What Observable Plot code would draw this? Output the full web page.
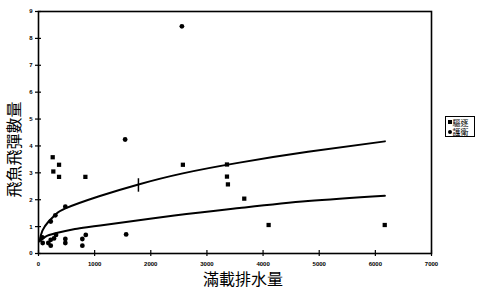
<!DOCTYPE html>
<html>
<head>
<meta charset="utf-8">
<script src="https://cdn.jsdelivr.net/npm/d3@7"></script>
<script src="https://cdn.jsdelivr.net/npm/@observablehq/plot@0.6"></script>
<style>
  body { margin: 0; background: #fff; }
  #wrap { position: relative; width: 479px; height: 297px; }
  #legend { position: absolute; left: 445px; top: 116px; width: 28px; height: 19px;
    border: 1.5px solid #000; font-family: "Noto Sans CJK TC", sans-serif; font-size: 8px;
    background: #fff; overflow: hidden; }
  #legend .row { display: flex; align-items: center; white-space: nowrap; height: 9px; line-height: 9px; margin-top: 0.5px; }
  #legend .mk { flex: none; width: 4px; height: 4px; background: #000; margin: 0 1px 0 1.5px; }
  #legend .mk.c { border-radius: 50%; }
</style>
</head>
<body>
<div id="wrap"></div>
<script>
const seriesNames = ["驅逐", "護衛"];
const xTicks = [0, 1000, 2000, 3000, 4000, 5000, 6000, 7000];
const yTicks = [0, 1, 2, 3, 4, 5, 6, 7, 8, 9];
const xTitle = "滿載排水量";
const yTitle = "飛魚飛彈數量";

// series 1 (squares)
const squareX = [253, 264, 366, 366, 835, 2572, 3357, 3357, 3374, 3665, 4099, 6167];
const squareY = [3.58, 3.05, 3.30, 2.85, 2.85, 3.30, 3.31, 2.86, 2.57, 2.04, 1.06, 1.06];
// series 2 (circles)
const circleX = [2554, 1543, 68, 75, 175, 218, 218, 276, 312, 218, 300, 478, 478, 478, 781, 781, 842, 1561];
const circleY = [8.45, 4.24, 0.60, 0.39, 0.39, 0.51, 0.29, 0.56, 0.69, 1.19, 1.42, 1.74, 0.54, 0.39, 0.54, 0.29, 0.69, 0.71];

// trend curves
const upperX = [20, 70, 180, 300, 480, 1080, 1765, 2570, 3580, 4800, 6170];
const upperY = [0.47, 0.85, 1.19, 1.44, 1.68, 2.13, 2.56, 2.98, 3.38, 3.78, 4.17];
const lowerX = [20, 120, 300, 650, 1100, 2420, 3580, 4800, 6170];
const lowerY = [0.45, 0.62, 0.75, 0.91, 1.04, 1.41, 1.69, 1.95, 2.15];

// marker on the upper curve
const markX = [1780];
const markY1 = [2.28];
const markY2 = [2.78];

const points = [
  ...squareX.map((x, i) => ({x, y: squareY[i], s: seriesNames[0]})),
  ...circleX.map((x, i) => ({x, y: circleY[i], s: seriesNames[1]}))
];
const upper = upperX.map((x, i) => ({x, y: upperY[i]}));
const lower = lowerX.map((x, i) => ({x, y: lowerY[i]}));
const marks = markX.map((x, i) => ({x, y1: markY1[i], y2: markY2[i]}));

const tickFont = {fontSize: 6, fontWeight: "bold", fontFamily: "Liberation Sans, Arial, sans-serif"};

const chart = Plot.plot({
  width: 479,
  height: 297,
  marginLeft: 38,
  marginRight: 48,
  marginTop: 11,
  marginBottom: 44,
  style: {background: "#fff", color: "#000"},
  x: {domain: [0, 7000]},
  y: {domain: [0, 9]},
  symbol: {domain: seriesNames, range: ["square", "circle"]},
  marks: [
    Plot.frame({strokeWidth: 1.6}),
    Plot.axisX({ticks: xTicks, tickSize: 3, tickPadding: 5, tickFormat: d => String(d), label: null, strokeWidth: 1.2, ...tickFont}),
    Plot.axisX({ticks: xTicks, tickSize: 3, dy: -3, text: null, label: null, strokeWidth: 1.2}),
    Plot.axisY({ticks: yTicks, tickSize: 3, tickPadding: 3, tickFormat: d => String(d), label: null, strokeWidth: 1.2, ...tickFont}),
    Plot.axisY({ticks: yTicks, tickSize: 3, dx: 3, text: null, label: null, strokeWidth: 1.2}),
    Plot.line(upper, {x: "x", y: "y", curve: "natural", strokeWidth: 2, stroke: "#000"}),
    Plot.line(lower, {x: "x", y: "y", curve: "natural", strokeWidth: 2, stroke: "#000"}),
    Plot.ruleX(marks, {x: "x", y1: "y1", y2: "y2", strokeWidth: 1.5, stroke: "#000"}),
    Plot.dot(points, {x: "x", y: "y", symbol: "s", r: 2.4, fill: "#000", stroke: null}),
    Plot.text([yTitle], {frameAnchor: "left", rotate: -90, dx: -24, dy: 17, textAnchor: "middle",
      fontSize: 16, fontFamily: "Noto Sans CJK TC, sans-serif", fill: "#000"}),
    Plot.text([xTitle], {frameAnchor: "bottom", dx: 8, dy: 31, textAnchor: "middle",
      fontSize: 16, fontFamily: "Noto Sans CJK TC, sans-serif", fill: "#000"})
  ]
});

const wrap = document.getElementById("wrap");
wrap.appendChild(chart);

const legend = document.createElement("div");
legend.id = "legend";
legend.innerHTML = seriesNames.map((n, i) =>
  `<div class="row"><span class="mk${i ? " c" : ""}"></span><span>${n}</span></div>`).join("");
wrap.appendChild(legend);
</script>
</body>
</html>
